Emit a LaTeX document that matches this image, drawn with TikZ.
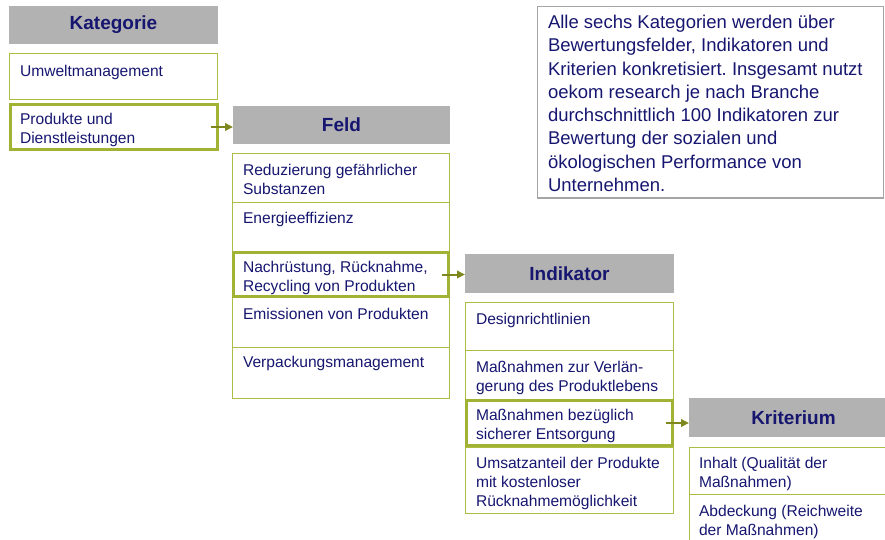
\documentclass[tikz,border=0pt]{standalone}
\usepackage{fontspec}
\setmainfont{Liberation Sans}
\usetikzlibrary{arrows.meta}
\definecolor{navy}{RGB}{22,22,112}
\definecolor{hdrgray}{RGB}{178,178,178}
\definecolor{olive}{RGB}{162,178,52}
\definecolor{oliveLight}{RGB}{172,188,68}
\definecolor{arrowol}{RGB}{125,135,30}
\definecolor{boxgray}{RGB}{165,165,165}
\frenchspacing
\tikzset{
  every node/.style={outer sep=0pt},
  hdr/.style={fill=hdrgray, draw=none, inner sep=0pt, anchor=north west, text=navy,
    font=\fontsize{19}{22}\selectfont\bfseries},
  cell/.style={draw=oliveLight, line width=1pt, inner sep=0pt, anchor=north west},
  selcell/.style={draw=olive, line width=3pt, inner sep=0pt, anchor=north west},
  celltext/.style={anchor=north west, inner sep=0pt, text=navy, align=left,
    font=\fontsize{15.6}{19}\selectfont},
  link/.style={draw=arrowol, line width=2pt, -{Triangle[length=8pt,width=7.5pt]}},
}
\begin{document}
\begin{tikzpicture}[x=1pt,y=-1pt]
\useasboundingbox (0,0) rectangle (885,540);
\clip (0,0) rectangle (885,540);

% Kategorie column
\node[hdr, minimum width=209, minimum height=38] (kh) at (9,6) {Kategorie};
\node[cell, minimum width=208, minimum height=46] (k1) at (9,54) {};
\node[selcell, minimum width=207, minimum height=45] (k2) at (10.5,104.5) {};
\node[celltext] (k1t) at (20,65) {Umweltmanagement};
\node[celltext] (k2t) at (20,113) {Produkte und\\Dienstleistungen};

% Feld column
\node[hdr, minimum width=217, minimum height=38] (fh) at (233,106) {Feld};
\node[cell, minimum width=217, minimum height=48] (f1) at (232,154) {};
\node[cell, minimum width=217, minimum height=49] (f2) at (232,202) {};
\node[cell, minimum width=217, minimum height=50] (f4) at (232,297) {};
\node[cell, minimum width=217, minimum height=51] (f5) at (232,347) {};
\node[selcell, minimum width=215, minimum height=44] (f3) at (233.5,252.5) {};
\node[celltext] (f1t) at (243,164) {Reduzierung gefährlicher\\Substanzen};
\node[celltext] (f2t) at (243,212.5) {Energieeffizienz};
\node[celltext] (f3t) at (243,261.5) {Nachrüstung, Rücknahme,\\Recycling von Produkten};
\node[celltext] (f4t) at (243,308) {Emissionen von Produkten};
\node[celltext] (f5t) at (243,356.5) {Verpackungsmanagement};

% Indikator column
\node[hdr, minimum width=209, minimum height=39] (ih) at (465,254) {Indikator};
\node[cell, minimum width=208, minimum height=48] (i1) at (465,302) {};
\node[cell, minimum width=208, minimum height=49] (i2) at (465,350) {};
\node[cell, minimum width=208, minimum height=66] (i4) at (465,447) {};
\node[selcell, minimum width=206, minimum height=45] (i3) at (466.5,400.5) {};
\node[celltext] (i1t) at (476,313) {Designrichtlinien};
\node[celltext] (i2t) at (476,361) {Maßnahmen zur Verlän-\\gerung des Produktlebens};
\node[celltext] (i3t) at (476,409) {Maßnahmen bezüglich\\sicherer Entsorgung};
\node[celltext] (i4t) at (476,457) {Umsatzanteil der Produkte\\mit kostenloser\\Rücknahmemöglichkeit};

% Kriterium column
\node[hdr, minimum width=209, minimum height=39] (ch) at (689,398) {Kriterium};
\node[cell, minimum width=210, minimum height=47] (c1) at (689,447) {};
\node[cell, minimum width=210, minimum height=60] (c2) at (689,494) {};
\node[celltext] (c1t) at (699,457) {Inhalt (Qualität der\\Maßnahmen)};
\node[celltext] (c2t) at (699,505) {Abdeckung (Reichweite\\der Maßnahmen)};

% Description box
\node[draw=boxgray, line width=1.2pt, inner sep=0pt, anchor=north west,
  minimum width=346, minimum height=191.5] (desc) at (537.5,6.5) {};
\node[anchor=north west, inner sep=0pt, text=navy, align=left,
  font=\fontsize{18.5}{23.3}\selectfont] (desct) at (548,15)
  {Alle sechs Kategorien werden über\\
   Bewertungsfelder, Indikatoren und\\
   Kriterien konkretisiert. Insgesamt nutzt\\
   oekom research je nach Branche\\
   durchschnittlich 100 Indikatoren zur\\
   Bewertung der sozialen und\\
   ökologischen Performance von\\
   Unternehmen.};

% Links
\draw[link] ([xshift=-7pt]k2.east) -- (k2.east -| fh.west);
\draw[link] ([xshift=-7pt]f3.east) -- (f3.east -| ih.west);
\draw[link] ([xshift=-7pt]i3.east) -- (i3.east -| ch.west);
\end{tikzpicture}
\end{document}
